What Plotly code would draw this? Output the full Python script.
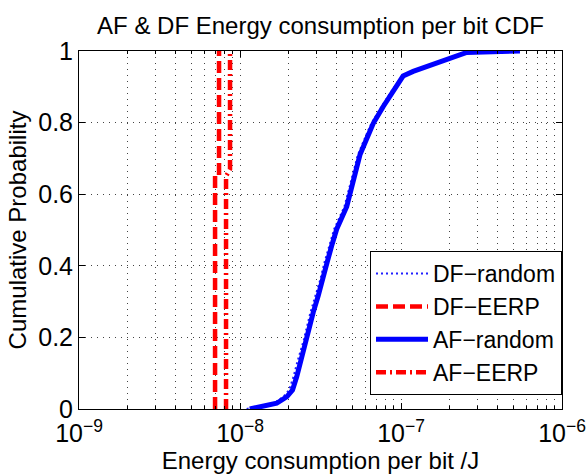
import plotly.graph_objects as go

# ---- data ----
af_random_prob = [0.0, 0.016, 0.034, 0.053, 0.09, 0.128, 0.193, 0.27, 0.316, 0.363, 0.41, 0.456,
                  0.503, 0.565, 0.60, 0.66, 0.71, 0.75, 0.798, 0.845, 0.89, 0.93, 0.943, 0.957,
                  0.97, 0.985, 0.996, 1.0]
af_random_energy = [1.15e-8, 1.69e-8, 1.95e-8, 2.12e-8, 2.25e-8, 2.36e-8, 2.60e-8, 2.85e-8, 3.06e-8,
                    3.29e-8, 3.48e-8, 3.71e-8, 3.99e-8, 4.60e-8, 4.82e-8, 5.25e-8, 5.56e-8, 6.06e-8,
                    6.73e-8, 7.76e-8, 8.95e-8, 1.03e-7, 1.19e-7, 1.44e-7, 1.75e-7, 2.10e-7, 2.56e-7,
                    5.48e-7]
df_random_prob = af_random_prob
df_random_energy = [1.10e-8, 1.62e-8, 1.86e-8, 2.02e-8, 2.15e-8, 2.26e-8, 2.49e-8, 2.74e-8, 2.94e-8,
                    3.16e-8, 3.35e-8, 3.57e-8, 3.85e-8, 4.45e-8, 4.67e-8, 5.08e-8, 5.40e-8, 5.88e-8,
                    6.55e-8, 7.58e-8, 8.80e-8, 1.02e-7, 1.18e-7, 1.43e-7, 1.74e-7, 2.09e-7, 2.55e-7,
                    5.40e-7]
df_eerp_energy = [7.00e-9, 7.00e-9, 7.41e-9, 7.41e-9]
df_eerp_prob = [0.0, 0.66, 0.66, 1.0]
af_eerp_energy = [8.19e-9, 8.19e-9, 8.67e-9, 8.67e-9]
af_eerp_prob = [0.0, 0.65, 0.67, 1.0]

x_tickvals = [1e-9, 1e-8, 1e-7, 1e-6]
x_ticktext = ["10<sup>\u22129</sup>", "10<sup>\u22128</sup>", "10<sup>\u22127</sup>", "10<sup>\u22126</sup>"]
y_tickvals = [0, 0.2, 0.4, 0.6, 0.8, 1]
y_ticktext = ["0", "0.2", "0.4", "0.6", "0.8", "1"]

FONT = "Liberation Sans, Arial, Helvetica, sans-serif"
FS = 24

fig = go.Figure()
fig.add_trace(go.Scatter(x=df_random_energy, y=df_random_prob, mode="lines", name="DF\u2212random",
                         line=dict(color="#2020ff", width=2, dash="2px,3px")))
fig.add_trace(go.Scatter(x=df_eerp_energy, y=df_eerp_prob, mode="lines", name="DF\u2212EERP",
                         line=dict(color="#ff0000", width=4.5, dash="12px,5px")))
fig.add_trace(go.Scatter(x=af_random_energy, y=af_random_prob, mode="lines", name="AF\u2212random",
                         line=dict(color="#0000ff", width=5)))
fig.add_trace(go.Scatter(x=af_eerp_energy, y=af_eerp_prob, mode="lines", name="AF\u2212EERP",
                         line=dict(color="#ff0000", width=4.5, dash="10px,4px,2px,4px")))

minor_vals = [k * 10.0 ** e for e in (-9, -8, -7) for k in range(2, 10)]
grid_dash = "1px,5px"
grid_col = "#444444"

fig.update_layout(
    width=586, height=474,
    margin=dict(l=79, r=24, t=51, b=65, autoexpand=False),
    paper_bgcolor="white", plot_bgcolor="white",
    font=dict(family=FONT, size=FS, color="black"),
    title=dict(text="AF & DF Energy consumption per bit CDF", x=320.5 / 586, xanchor="center",
               y=1 - 26 / 474, yanchor="middle", font=dict(size=FS)),
    showlegend=True,
    legend=dict(x=1, xanchor="right", y=0.039, yanchor="bottom", bgcolor="white",
                bordercolor="black", borderwidth=1, font=dict(size=23), itemwidth=52,
                tracegroupgap=0),
)
fig.update_xaxes(
    type="log", range=[-9, -6], tickvals=x_tickvals, ticktext=x_ticktext,
    showline=True, linecolor="black", linewidth=1, mirror="allticks",
    ticks="inside", ticklen=6, tickcolor="black", tickfont=dict(size=25), ticklabelstandoff=2,
    ticklabeloverflow="allow", automargin=False,
    showgrid=True, gridcolor=grid_col, griddash=grid_dash, gridwidth=1, zeroline=False,
    minor=dict(tickvals=minor_vals, ticks="inside", ticklen=3, tickcolor="black",
               showgrid=True, gridcolor=grid_col, griddash=grid_dash, gridwidth=1),
    title=dict(text="Energy consumption per bit /J", standoff=2, font=dict(size=FS)),
)
fig.update_yaxes(
    range=[0, 1], tickvals=y_tickvals, ticktext=y_ticktext, automargin=False,
    showline=True, linecolor="black", linewidth=1, mirror="allticks",
    ticks="inside", ticklen=6, tickcolor="black", tickfont=dict(size=25),
    showgrid=True, gridcolor=grid_col, griddash=grid_dash, gridwidth=1, zeroline=False,
    title=dict(text="Cumulative Probability", standoff=4, font=dict(size=FS)),
)

fig.write_html("out.html")
